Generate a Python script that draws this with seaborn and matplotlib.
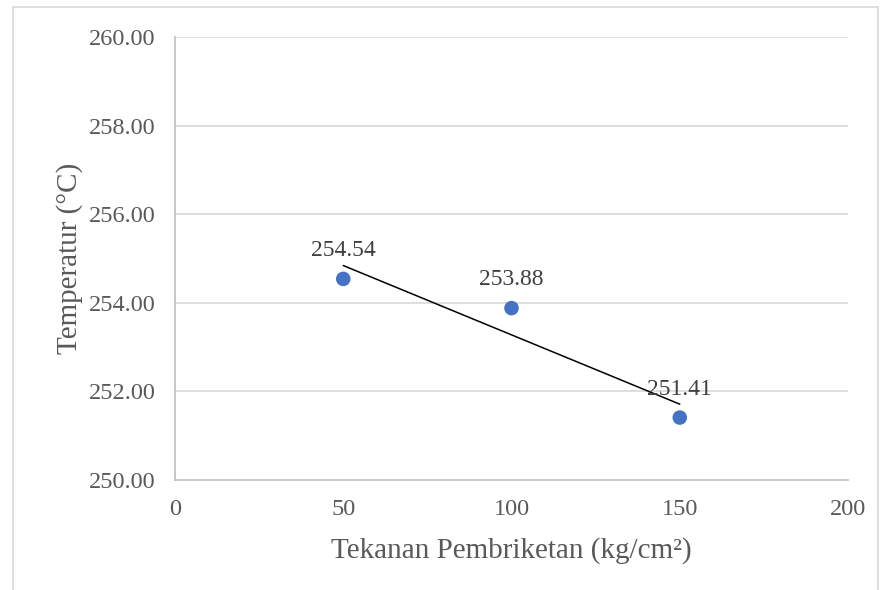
import matplotlib
matplotlib.use("Agg")
import matplotlib.pyplot as plt
import seaborn as sns
import pandas as pd
from matplotlib.patches import Rectangle

# data
tekanan = [50, 100, 150]
temperatur = [254.54, 253.88, 251.41]
x_ticks = [0, 50, 100, 150, 200]
y_ticks = [250, 252, 254, 256, 258, 260]

df = pd.DataFrame({"tekanan": tekanan, "temperatur": temperatur})

sns.set_style("white")
plt.rcParams["font.family"] = ["Liberation Serif", "DejaVu Serif"]

fig = plt.figure(figsize=(8.82, 5.9), dpi=100)
ax = fig.add_axes([0.1984, 0.1864, 0.7631, 0.7509])

# chart border
fig.patches.append(Rectangle((0.0147, -0.02), 0.9808, 1.008, transform=fig.transFigure,
                             fill=False, edgecolor="#D9D9D9", linewidth=1.2))

grid_c = "#D9D9D9"
for yv in y_ticks[1:]:
    ax.axhline(yv, color=grid_c, linewidth=1.2, zorder=0)

sns.regplot(data=df, x="tekanan", y="temperatur", ax=ax, ci=None, scatter=False,
            truncate=True, line_kws={"color": "black", "linewidth": 1.1})
sns.scatterplot(data=df, x="tekanan", y="temperatur", ax=ax, color="#4472C4",
                s=110, edgecolor="none", zorder=3)

for xv, yv in zip(tekanan, temperatur):
    ax.annotate(f"{yv:.2f}", (xv, yv), xytext=(0, 13), textcoords="offset points",
                ha="center", va="bottom", fontsize=17, color="#404040")

ax.set_xlim(0, 200)
ax.set_ylim(250, 260)
ax.set_xticks(x_ticks)
ax.set_yticks(y_ticks)
ax.set_yticklabels([f"{v:.2f}" for v in y_ticks])

for s in ["top", "right"]:
    ax.spines[s].set_visible(False)
for s in ["left", "bottom"]:
    ax.spines[s].set_color("#BFBFBF")
    ax.spines[s].set_linewidth(1.2)

ax.tick_params(axis="both", which="major", direction="out", length=6, width=1.2,
               color="#BFBFBF", labelsize=17.5, labelcolor="#595959", pad=8)
ax.tick_params(axis="x", pad=8)

ax.set_xlabel("Tekanan Pembriketan (kg/cm²)", fontsize=21, color="#595959", labelpad=12)
ax.set_ylabel("Temperatur (°C)", fontsize=21, color="#595959", labelpad=4)

fig.savefig("out.png", dpi=100)
